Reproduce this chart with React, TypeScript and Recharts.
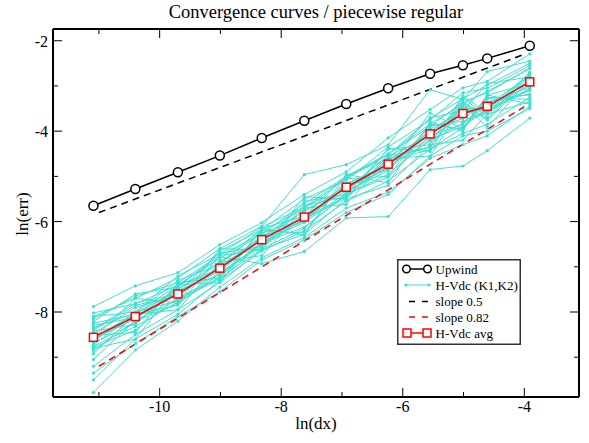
import React from 'react';
import { LineChart, Line, XAxis, YAxis, Legend } from 'recharts';

// ln(dx) values of the refinement levels
const lnDx = [-11.09, -10.4, -9.7, -9.01, -8.32, -7.62, -6.93, -6.24, -5.55, -5.01, -4.61, -3.91];

// Upwind scheme ln(err)
const upwind = [-5.65, -5.28, -4.91, -4.54, -4.15, -3.77, -3.4, -3.05, -2.73, -2.54, -2.39, -2.11];

// H-Vdc average ln(err)
const hvdcAvg = [-8.56, -8.1, -7.6, -7.03, -6.4, -5.9, -5.24, -4.73, -4.06, -3.61, -3.45, -2.91];

// reference slope lines (end points)
const slopeX = [-11, -4];
const slope05 = [-5.8, -2.3];
const slope082 = [-9.2, -3.46];

// individual H-Vdc (K1,K2) runs
const hvdcRuns: number[][] = [
  [-8.02, -7.82, -7.4, -6.82, -6.21, -5.72, -5.05, -4.51, -3.84, -3.4, -3.12, -2.62],
  [-8.21, -7.6, -7.45, -6.7, -6.55, -5.55, -5.4, -4.4, -4.3, -3.22, -3.6, -2.7],
  [-8.35, -8.02, -7.3, -6.95, -6.15, -5.88, -4.98, -4.62, -3.7, -3.55, -2.95, -2.8],
  [-8.48, -7.9, -7.62, -6.88, -6.42, -5.75, -5.28, -4.55, -4.12, -3.4, -3.6, -2.85],
  [-8.6, -8.15, -7.55, -7.1, -6.35, -6.0, -5.2, -4.85, -3.98, -3.72, -3.38, -3.02],
  [-8.72, -8.05, -7.85, -6.75, -6.62, -5.65, -5.45, -4.55, -4.35, -3.35, -3.75, -2.75],
  [-8.85, -8.2, -7.82, -7.15, -6.48, -6.12, -5.4, -4.95, -4.18, -3.9, -3.5, -3.1],
  [-9.5, -8.6, -8.05, -7.3, -6.65, -6.2, -5.55, -5.1, -4.4, -4.05, -3.85, -3.25],
  [-9.78, -8.84, -8.2, -7.45, -6.8, -6.35, -5.7, -5.35, -4.6, -4.3, -4.1, -3.45],
  [-7.88, -7.42, -7.13, -6.51, -6.02, -5.4, -4.9, -4.15, -3.52, -3.04, -2.9, -2.29],
  [-8.1, -7.7, -7.25, -6.6, -6.1, -4.96, -4.74, -4.3, -3.08, -3.3, -2.68, -2.45],
  [-8.25, -8.05, -7.5, -6.9, -6.25, -5.95, -5.15, -4.8, -3.6, -3.95, -3.2, -2.95],
  [-8.4, -7.85, -7.65, -6.98, -6.38, -5.65, -5.3, -4.65, -4.02, -3.48, -3.52, -2.72],
  [-8.52, -8.45, -7.35, -7.25, -6.2, -6.25, -5.05, -5.0, -3.85, -3.95, -3.25, -3.3],
  [-8.65, -8.0, -7.75, -7.12, -6.55, -5.92, -5.45, -4.6, -4.35, -3.42, -3.75, -2.88],
  [-8.78, -8.4, -7.68, -7.25, -6.6, -6.15, -5.38, -5.02, -4.1, -3.85, -3.28, -3.2],
  [-8.92, -8.05, -7.95, -6.9, -6.75, -5.7, -5.62, -4.6, -4.55, -3.4, -3.92, -2.85],
  [-9.2, -8.5, -7.95, -7.35, -6.62, -6.28, -5.5, -5.2, -4.3, -4.2, -3.62, -3.35],
  [-9.35, -8.7, -8.1, -7.55, -6.85, -6.4, -5.8, -5.4, -4.55, -4.1, -4.0, -3.5],
  [-8.15, -7.65, -7.35, -6.75, -6.28, -5.6, -5.0, -4.5, -3.9, -3.35, -3.15, -2.6],
  [-8.3, -8.12, -7.48, -7.02, -6.33, -5.98, -5.18, -4.72, -4.15, -3.62, -3.48, -2.98],
  [-8.58, -7.7, -7.8, -6.6, -6.62, -5.45, -5.5, -4.38, -4.45, -3.25, -3.7, -2.7],
  [-8.68, -8.25, -7.52, -7.18, -6.5, -5.85, -5.32, -4.88, -3.88, -3.78, -3.55, -3.08],
  [-8.8, -8.6, -7.4, -7.35, -6.15, -6.3, -4.95, -5.15, -3.8, -4.0, -3.2, -3.4],
  [-9.05, -8.18, -7.72, -7.28, -6.48, -5.95, -5.48, -4.68, -4.4, -3.92, -3.35, -3.18],
  [-8.42, -8.28, -7.42, -6.78, -6.93, -6.66, -5.92, -5.89, -4.85, -4.77, -4.43, -3.71],
  [-8.38, -7.8, -7.6, -6.65, -6.18, -5.5, -5.08, -4.35, -3.75, -3.15, -3.05, -2.55],
  [-8.55, -8.05, -7.4, -7.05, -6.32, -5.78, -5.26, -4.82, -3.95, -3.58, -3.42, -2.78],
  [-8.75, -8.32, -7.78, -7.22, -6.44, -6.02, -5.36, -4.78, -4.22, -3.82, -3.58, -3.05],
  [-8.1, -8.0, -7.2, -6.72, -6.12, -5.68, -5.02, -4.52, -3.72, -3.28, -2.98, -2.5],
];

const xTicks = [-11, -10, -9, -8, -7, -6, -5, -4];
const yTicks = [-9, -8, -7, -6, -5, -4, -3, -2];
const xDomain = [-11.755, -3.1];
const yDomain = [-9.88, -1.74];

const CYAN = '#40E0D0';
const FONT = '"Liberation Serif", "Times New Roman", serif';

const chartData = lnDx.map((x, i) => {
  const row: Record<string, number> = { x, upwind: upwind[i], avg: hvdcAvg[i] };
  hvdcRuns.forEach((run, j) => {
    row['run' + j] = run[i];
  });
  return row;
});

const slope05Data = slopeX.map((x, i) => ({ x, y: slope05[i] }));
const slope082Data = slopeX.map((x, i) => ({ x, y: slope082[i] }));

const isMajor = (v: number) => Math.abs(v % 2) === 0;

const BottomTick = (props: any) => {
  const { x, y, payload } = props;
  const major = isMajor(payload.value);
  return (
    <g>
      <line x1={x} y1={y} x2={x} y2={y - (major ? 9 : 5)} stroke="#000" strokeWidth={1} />
      {major && (
        <text x={x} y={y + 15} textAnchor="middle" fontSize={16} fontFamily={FONT} fill="#000">
          {payload.value}
        </text>
      )}
    </g>
  );
};

const TopTick = (props: any) => {
  const { x, y, payload } = props;
  const major = isMajor(payload.value);
  return <line x1={x} y1={y} x2={x} y2={y + (major ? 9 : 5)} stroke="#000" strokeWidth={1} />;
};

const LeftTick = (props: any) => {
  const { x, y, payload } = props;
  const major = isMajor(payload.value);
  return (
    <g>
      <line x1={x} y1={y} x2={x + (major ? 9 : 5)} y2={y} stroke="#000" strokeWidth={1} />
      {major && (
        <text x={x - 5} y={y + 6} textAnchor="end" fontSize={16} fontFamily={FONT} fill="#000">
          {payload.value}
        </text>
      )}
    </g>
  );
};

const RightTick = (props: any) => {
  const { x, y, payload } = props;
  const major = isMajor(payload.value);
  return <line x1={x} y1={y} x2={x - (major ? 9 : 5)} y2={y} stroke="#000" strokeWidth={1} />;
};

const SquareDot = (props: any) => {
  const { cx, cy, index } = props;
  if (cx == null || cy == null) return <g key={index} />;
  return <rect key={index} x={cx - 4} y={cy - 4} width={8} height={8} fill="#fff" stroke="#f00" strokeWidth={1.5} />;
};

const legendItems = [
  { label: 'Upwind', kind: 'circle' },
  { label: 'H-Vdc (K1,K2)', kind: 'cyan' },
  { label: 'slope 0.5', kind: 'dashBlack' },
  { label: 'slope 0.82', kind: 'dashRed' },
  { label: 'H-Vdc avg', kind: 'square' },
];

const LegendBox = () => {
  const rows = [10, 26, 42.5, 58, 74];
  return (
    <svg width={124} height={86} style={{ display: 'block' }}>
      <rect x={0.75} y={0.75} width={122.5} height={84.5} fill="#fff" stroke="#333" strokeWidth={1.5} />
      {legendItems.map((it, i) => {
        const cy = rows[i];
        let sym: React.ReactNode = null;
        if (it.kind === 'circle') {
          sym = (
            <g>
              <line x1={9} y1={cy} x2={31} y2={cy} stroke="#000" strokeWidth={1.5} />
              <circle cx={9.5} cy={cy} r={3.8} fill="#fff" stroke="#000" strokeWidth={1.5} />
              <circle cx={30.5} cy={cy} r={3.8} fill="#fff" stroke="#000" strokeWidth={1.5} />
            </g>
          );
        } else if (it.kind === 'cyan') {
          sym = (
            <g>
              <line x1={9} y1={cy} x2={32} y2={cy} stroke={CYAN} strokeWidth={1} />
              <circle cx={9} cy={cy} r={1.6} fill={CYAN} />
              <circle cx={32} cy={cy} r={1.6} fill={CYAN} />
            </g>
          );
        } else if (it.kind === 'dashBlack' || it.kind === 'dashRed') {
          sym = (
            <line
              x1={12}
              y1={cy}
              x2={31}
              y2={cy}
              stroke={it.kind === 'dashBlack' ? '#000' : '#f00'}
              strokeWidth={1.5}
              strokeDasharray="6 7"
            />
          );
        } else {
          sym = (
            <g>
              <line x1={10} y1={cy} x2={30} y2={cy} stroke="#f00" strokeWidth={1.5} />
              <rect x={6} y={cy - 4} width={8} height={8} fill="#fff" stroke="#f00" strokeWidth={1.5} />
              <rect x={26} y={cy - 4} width={8} height={8} fill="#fff" stroke="#f00" strokeWidth={1.5} />
            </g>
          );
        }
        return (
          <g key={it.label}>
            {sym}
            <text x={38.5} y={cy + 4.5} fontSize={13} fontFamily={FONT} fill="#000">
              {it.label}
            </text>
          </g>
        );
      })}
    </svg>
  );
};

export default function App() {
  return (
    <div style={{ position: 'absolute', left: 0, top: 0, width: 589, height: 443, background: '#fff' }}>
      <svg
        width={589}
        height={30}
        style={{ position: 'absolute', left: 0, top: 0, pointerEvents: 'none' }}
      >
        <text x={316} y={17.5} textAnchor="middle" fontSize={18.5} fontFamily={FONT} fill="#000">
          Convergence curves / piecewise regular
        </text>
      </svg>
      <LineChart width={589} height={443} data={chartData} margin={{ top: 0, right: 0, bottom: 0, left: 0 }}>
        <XAxis
          xAxisId="bottom"
          dataKey="x"
          type="number"
          domain={xDomain}
          allowDataOverflow
          ticks={xTicks}
          interval={0}
          height={46}
          tickSize={0}
          tickMargin={0}
          tickLine={false}
          axisLine={{ stroke: '#000', strokeWidth: 2 }}
          tick={BottomTick}
          label={{
            content: () => (
              <text x={316} y={429} textAnchor="middle" fontSize={17} fontFamily={FONT} fill="#000">
                ln(dx)
              </text>
            ),
          }}
        />
        <XAxis
          xAxisId="top"
          orientation="top"
          dataKey="x"
          type="number"
          domain={xDomain}
          allowDataOverflow
          ticks={xTicks}
          interval={0}
          height={29}
          tickSize={0}
          tickMargin={0}
          tickLine={false}
          axisLine={{ stroke: '#000', strokeWidth: 2 }}
          tick={TopTick}
        />
        <YAxis
          yAxisId="left"
          type="number"
          domain={yDomain}
          allowDataOverflow
          ticks={yTicks}
          interval={0}
          width={53}
          tickSize={0}
          tickMargin={0}
          tickLine={false}
          axisLine={{ stroke: '#000', strokeWidth: 2 }}
          tick={LeftTick}
          label={{
            content: () => (
              <text
                x={28}
                y={214}
                transform="rotate(-90 28 214)"
                textAnchor="middle"
                fontSize={17}
                fontFamily={FONT}
                fill="#000"
              >
                ln(err)
              </text>
            ),
          }}
        />
        <YAxis
          yAxisId="right"
          orientation="right"
          type="number"
          domain={yDomain}
          allowDataOverflow
          ticks={yTicks}
          interval={0}
          width={10}
          tickSize={0}
          tickMargin={0}
          tickLine={false}
          axisLine={{ stroke: '#000', strokeWidth: 2 }}
          tick={RightTick}
        />
        {hvdcRuns.map((_, j) => (
          <Line
            key={'run' + j}
            xAxisId="bottom"
            yAxisId="left"
            dataKey={'run' + j}
            stroke={CYAN}
            strokeWidth={1}
            dot={{ r: 1.6, fill: CYAN, stroke: 'none' }}
            activeDot={false}
            legendType="none"
            isAnimationActive={false}
          />
        ))}
        <Line
          xAxisId="bottom"
          yAxisId="left"
          dataKey="upwind"
          name="Upwind"
          stroke="#000"
          strokeWidth={1.5}
          dot={{ r: 4.5, fill: '#fff', stroke: '#000', strokeWidth: 1.5 }}
          activeDot={false}
          isAnimationActive={false}
        />
        <Line
          xAxisId="bottom"
          yAxisId="left"
          data={slope05Data}
          dataKey="y"
          name="slope 0.5"
          stroke="#000"
          strokeWidth={1.5}
          strokeDasharray="7 5"
          dot={false}
          activeDot={false}
          isAnimationActive={false}
        />
        <Line
          xAxisId="bottom"
          yAxisId="left"
          data={slope082Data}
          dataKey="y"
          name="slope 0.82"
          stroke="#f00"
          strokeWidth={1.5}
          strokeDasharray="7 5"
          dot={false}
          activeDot={false}
          isAnimationActive={false}
        />
        <Line
          xAxisId="bottom"
          yAxisId="left"
          dataKey="avg"
          name="H-Vdc avg"
          stroke="#f00"
          strokeWidth={1.5}
          dot={SquareDot}
          activeDot={false}
          isAnimationActive={false}
        />
        <Line
          xAxisId="top"
          yAxisId="right"
          dataKey="avg"
          stroke="none"
          dot={false}
          activeDot={false}
          legendType="none"
          isAnimationActive={false}
        />
        <Legend
          layout="horizontal"
          verticalAlign="middle"
          align="center"
          content={() => <LegendBox />}
          wrapperStyle={{ left: 397, top: 259, width: 124, height: 86 }}
        />
      </LineChart>
    </div>
  );
}
